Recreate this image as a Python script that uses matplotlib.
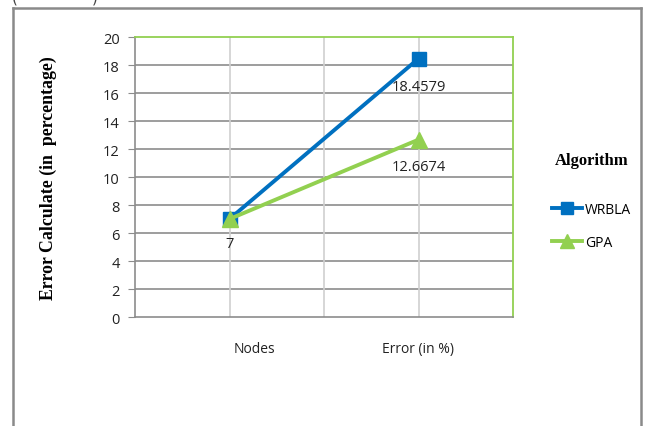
import matplotlib
matplotlib.use("Agg")
import matplotlib.pyplot as plt
import matplotlib.transforms as mtransforms
from matplotlib.lines import Line2D

categories = ["Nodes", "Error (in %)"]
wrbla = [7, 18.4579]
gpa = [7, 12.6674]
series_names = ["WRBLA", "GPA"]
yticks = [0, 2, 4, 6, 8, 10, 12, 14, 16, 18, 20]

W, H = 647, 427
fig = plt.figure(figsize=(W / 100, H / 100), dpi=100)
ax = fig.add_axes([135 / W, 1 - 318 / H, (513 - 135) / W, (318 - 38) / H])

blue = "#0070C0"
green = "#92D050"
x = list(range(len(categories)))

l1, = ax.plot(x, wrbla, color=blue, lw=2.8, marker="s", ms=10, zorder=4, label=series_names[0])
l2, = ax.plot(x, gpa, color=green, lw=2.8, marker="^", ms=11, zorder=5, label=series_names[1])

ax.set_xlim(-0.5, 1.5)
ax.set_ylim(0, 20)
ax.set_yticks(yticks)
for yv in yticks[1:-1]:
    ax.axhline(yv, color="#8c8c8c", lw=1.2, zorder=1)
for xv in [0, 0.5, 1]:
    ax.axvline(xv, color="#d0d0d0", lw=1.2, zorder=1)

for s in ["top", "right"]:
    ax.spines[s].set_color(green)
    ax.spines[s].set_linewidth(1.3)
for s in ["left", "bottom"]:
    ax.spines[s].set_color("#8c8c8c")
    ax.spines[s].set_linewidth(1.2)

tick_font = "Open Sans"
ax.set_xticks(x)
ax.set_xticklabels(categories, fontsize=10, family=tick_font, color="#222222")
ax.tick_params(axis="x", length=0, pad=17)
ax.tick_params(axis="y", length=5, color="#8c8c8c", pad=6, labelsize=10.5, labelcolor="#222222")
for lab in ax.get_yticklabels():
    lab.set_family(tick_font)
# excel put the first category label a bit to the right
xl = ax.get_xticklabels()
xl[0].set_transform(xl[0].get_transform() + mtransforms.ScaledTranslation(25 / 100, 0, fig.dpi_scale_trans))

# data labels
ax.annotate("7", (0, wrbla[0]), xytext=(0, -18), textcoords="offset points",
            ha="center", va="center", fontsize=10.5, family=tick_font, color="#222222")
ax.annotate("18.4579", (1, wrbla[1]), xytext=(0, -20), textcoords="offset points",
            ha="center", va="center", fontsize=10.5, family=tick_font, color="#222222")
ax.annotate("12.6674", (1, gpa[1]), xytext=(0, -19.5), textcoords="offset points",
            ha="center", va="center", fontsize=10.5, family=tick_font, color="#222222")

ax.set_ylabel("Error Calculate (in  percentage)", family="Liberation Serif",
              fontweight="bold", fontsize=12.8)
ax.yaxis.set_label_coords((57 - 135) / (513 - 135), (318 - 178) / (318 - 38))

leg = fig.legend(handles=[l1, l2], loc="center left", bbox_to_anchor=(546 / W, 1 - 202 / H),
                 frameon=False, title="Algorithm", fontsize=10, handlelength=2.2,
                 handletextpad=0.2, labelspacing=1.3, borderaxespad=0,
                 prop={"family": tick_font, "size": 10}, markerscale=0.9)
leg.get_title().set_family("Liberation Serif")
leg.get_title().set_fontweight("bold")
leg.get_title().set_fontsize(12)
leg._legend_box.sep = 24

# outer frame of the figure box
fc = "#8a8a8a"
fig.add_artist(Line2D([13 / W, 13 / W], [0, 1 - 9 / H], color=fc, lw=1.8, transform=fig.transFigure))
fig.add_artist(Line2D([641 / W, 641 / W], [0, 1 - 9 / H], color=fc, lw=1.8, transform=fig.transFigure))
fig.add_artist(Line2D([13 / W, 641 / W], [1 - 9 / H, 1 - 9 / H], color=fc, lw=1.8, transform=fig.transFigure))
fig.text(12 / W, 1 + 2 / H, "(", fontsize=11, ha="left", va="center", color="#444444")
fig.text(92 / W, 1 + 2 / H, ")", fontsize=11, ha="left", va="center", color="#444444")

fig.savefig("out.png", dpi=100)
